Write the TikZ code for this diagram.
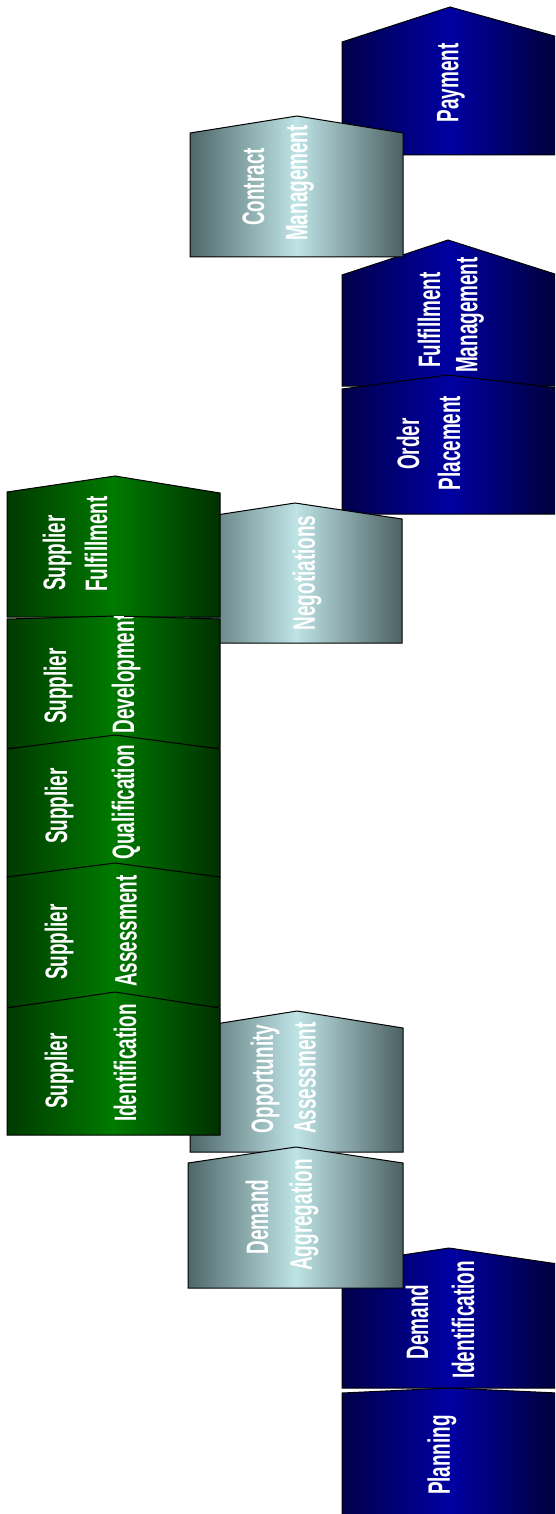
\documentclass[tikz,border=0pt]{standalone}
\usepackage{fontspec}
\newfontfamily\lblfam[FakeStretch=0.61]{Liberation Sans}
\definecolor{blueL}{HTML}{00004A}
\definecolor{blueM}{HTML}{0000A2}
\definecolor{blueR}{HTML}{00003A}
\definecolor{greenL}{HTML}{003A00}
\definecolor{greenM}{HTML}{007A00}
\definecolor{greenR}{HTML}{003000}
\definecolor{tealL}{HTML}{4E6769}
\definecolor{tealM}{HTML}{BFE4E6}
\definecolor{tealR}{HTML}{4C6163}
\tikzset{
  plate/.style={draw=black, line width=1pt, line join=miter},
  blueplate/.style={plate, left color=blueL, right color=blueR, middle color=blueM},
  greenplate/.style={plate, left color=greenL, right color=greenR, middle color=greenM},
  tealplate/.style={plate, left color=tealL, right color=tealR, middle color=tealM},
  lbl/.style={text=white, rotate=90, inner sep=0pt, anchor=center,
    font=\lblfam\bfseries\fontsize{31}{31}\selectfont}
}
% #1 style, #2 left, #3 right, #4 tip x, #5 tip y, #6 left shoulder y, #7 right shoulder y, #8 bottom y
\newcommand\hplate[8]{%
  \path[#1] (#2,#8) -- (#2,#6) -- (#4,#5) -- (#3,#7) -- (#3,#8) -- cycle;
  \clip (#2,#8) -- (#2,#6) -- (#4,#5) -- (#3,#7) -- (#3,#8) -- cycle;}
\begin{document}
\begin{tikzpicture}[x=1pt,y=-1pt]
\useasboundingbox (0,0) rectangle (555,1514);
\clip (0,0) rectangle (555,1514);
% ---------- blue column ----------
\begin{scope}
  \hplate{blueplate}{342}{558}{450}{7}{42}{37}{155}
  \node[lbl] (pay) at (451,83) {Payment};
\end{scope}
\begin{scope}
  \hplate{blueplate}{342}{558}{448}{240}{275}{275}{386}
  \node[lbl] (fm1) at (429,320) {Fulfillment};
  \node[lbl] (fm2) at (470,315) {Management};
\end{scope}
\begin{scope}
  \hplate{blueplate}{342}{558}{448}{375}{389}{388}{514}
  \node[lbl] (op1) at (408,444) {Order};
  \node[lbl] (op2) at (449,443) {Placement};
\end{scope}
\begin{scope}
  \hplate{blueplate}{342}{558}{449}{1248}{1264}{1264}{1388}
  \node[lbl] (di1) at (417,1322) {Demand};
  \node[lbl] (di2) at (463,1320) {Identification};
\end{scope}
\begin{scope}
  \hplate{blueplate}{342}{558}{449}{1388}{1393}{1393}{1530}
  \node[lbl] (pl) at (442,1455) {Planning};
\end{scope}
% ---------- teal column ----------
\begin{scope}
  \hplate{tealplate}{190}{403}{297}{116}{133}{133}{257}
  \node[lbl] (cm1) at (253.5,187) {Contract};
  \node[lbl] (cm2) at (300,183) {Management};
\end{scope}
\begin{scope}
  \hplate{tealplate}{190}{402}{295}{503}{519}{519}{643}
  \node[lbl] (neg) at (307,573) {Negotiations};
\end{scope}
\begin{scope}
  \hplate{tealplate}{190}{403}{297}{1011}{1028}{1028}{1152}
  \node[lbl] (oa1) at (265,1079) {Opportunity};
  \node[lbl] (oa2) at (305,1078) {Assessment};
\end{scope}
\begin{scope}
  \hplate{tealplate}{188}{403}{296}{1147}{1163}{1163}{1288}
  \node[lbl] (da1) at (257,1217) {Demand};
  \node[lbl] (da2) at (304,1215) {Aggregation};
\end{scope}
% ---------- green column ----------
\begin{scope}
  \hplate{greenplate}{7}{220}{115}{476}{492}{493}{617}
  \node[lbl] (sf1) at (57,553) {Supplier};
  \node[lbl] (sf2) at (96,544) {Fulfillment};
\end{scope}
\begin{scope}
  \hplate{greenplate}{7}{220}{115}{616}{619}{619}{748}
  \node[lbl] (sd1) at (58,686) {Supplier};
  \node[lbl] (sd2) at (126,674) {Development};
\end{scope}
\begin{scope}
  \hplate{greenplate}{7}{220}{115}{735}{749}{749}{877}
  \node[lbl] (sq1) at (59,806) {Supplier};
  \node[lbl] (sq2) at (126,802) {Qualification};
\end{scope}
\begin{scope}
  \hplate{greenplate}{7}{220}{115}{863}{877}{877}{1007}
  \node[lbl] (sa1) at (59,942) {Supplier};
  \node[lbl] (sa2) at (126,931) {Assessment};
\end{scope}
\begin{scope}
  \hplate{greenplate}{7}{220}{115}{992}{1008}{1008}{1135}
  \node[lbl] (si1) at (59,1071) {Supplier};
  \node[lbl] (si2) at (125,1063) {Identification};
\end{scope}
\end{tikzpicture}
\end{document}
